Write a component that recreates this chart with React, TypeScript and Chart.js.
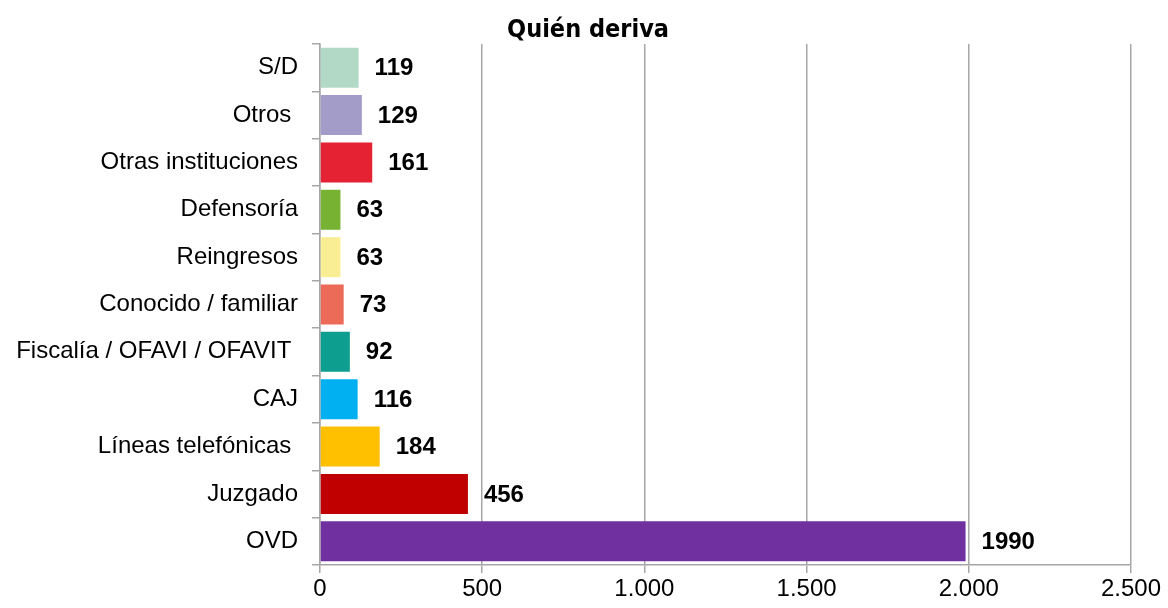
import React, { useEffect, useRef } from "react";
import { Chart, registerables } from "chart.js";

Chart.register(...registerables);

const categories = [
  "S/D",
  "Otros ",
  "Otras instituciones",
  "Defensoría",
  "Reingresos",
  "Conocido / familiar",
  "Fiscalía / OFAVI / OFAVIT ",
  "CAJ",
  "Líneas telefónicas ",
  "Juzgado",
  "OVD",
];
const values = [119, 129, 161, 63, 63, 73, 92, 116, 184, 456, 1990];
const barColors = [
  "#b2d8c6",
  "#a39cc9",
  "#e42234",
  "#77b233",
  "#f9ee94",
  "#eb6a58",
  "#0e9e8f",
  "#00b0f0",
  "#ffc000",
  "#c00000",
  "#7030a0",
];
const xTicks = [0, 500, 1000, 1500, 2000, 2500];
const titleText = "Quién deriva";

const fmt = (v: number) => String(Math.round(v)).replace(/\B(?=(\d{3})+(?!\d))/g, ".");

const labelPlugin = {
  id: "valueLabels",
  afterDatasetsDraw(chart: any) {
    const ctx = chart.ctx;
    const meta = chart.getDatasetMeta(0);
    ctx.save();
    ctx.font = "bold 24px 'Liberation Sans', Arial, sans-serif";
    ctx.fillStyle = "#000";
    ctx.textAlign = "left";
    ctx.textBaseline = "middle";
    meta.data.forEach((el: any, i: number) => {
      ctx.fillText(String(values[i]), el.x + 16, el.y + 1);
    });
    ctx.restore();
  },
};

const titlePlugin = {
  id: "pageTitle",
  afterDraw(chart: any) {
    const ctx = chart.ctx;
    ctx.save();
    ctx.font = "bold 25px 'DejaVu Sans Condensed', 'Liberation Sans Narrow', sans-serif";
    ctx.fillStyle = "#000";
    ctx.textAlign = "center";
    ctx.textBaseline = "alphabetic";
    ctx.fillText(titleText, chart.width / 2 + 4, 37);
    ctx.restore();
  },
};

export default function App() {
  const ref = useRef<HTMLCanvasElement>(null);
  useEffect(() => {
    if (!ref.current) return;
    const chart = new Chart(ref.current, {
      type: "bar",
      data: {
        labels: categories,
        datasets: [
          {
            data: values,
            backgroundColor: barColors,
            barPercentage: 0.845,
            categoryPercentage: 1,
          },
        ],
      },
      options: {
        indexAxis: "y",
        animation: false,
        responsive: false,
        layout: { padding: { left: 0, right: 37, top: 44, bottom: 0 } },
        plugins: {
          legend: { display: false },
          tooltip: { enabled: false },
          title: { display: false },
        },
        scales: {
          x: {
            min: 0,
            max: 2500,
            afterBuildTicks: (s: any) => {
              s.ticks = xTicks.map((v) => ({ value: v }));
            },
            afterFit: (s: any) => {
              s.height = 43;
            },
            ticks: {
              color: "#000",
              font: { family: "'Liberation Sans', Arial, sans-serif", size: 24 },
              padding: 2,
              callback: (v: any) => fmt(Number(v)),
            },
            grid: {
              color: "#a6a6a6",
              lineWidth: 1.5,
              drawTicks: true,
              tickLength: 8,
            },
            border: { display: true, color: "#a6a6a6", width: 1.5 },
          },
          y: {
            afterFit: (s: any) => {
              s.width = 320;
            },
            ticks: {
              color: "#000",
              font: { family: "'Liberation Sans', Arial, sans-serif", size: 24 },
              padding: 14,
            },
            grid: {
              display: true,
              drawOnChartArea: false,
              drawTicks: true,
              tickLength: 8,
              color: "#a6a6a6",
              lineWidth: 1.5,
              offset: true,
            },
            border: { display: true, color: "#a6a6a6", width: 1.5 },
          },
        },
      },
      plugins: [labelPlugin, titlePlugin],
    } as any);
    return () => chart.destroy();
  }, []);
  return (
    <div style={{ position: "absolute", left: 0, top: 0, width: 1168, height: 608, background: "#fff" }}>
      <canvas ref={ref} width={1168} height={608} style={{ display: "block" }} />
    </div>
  );
}
